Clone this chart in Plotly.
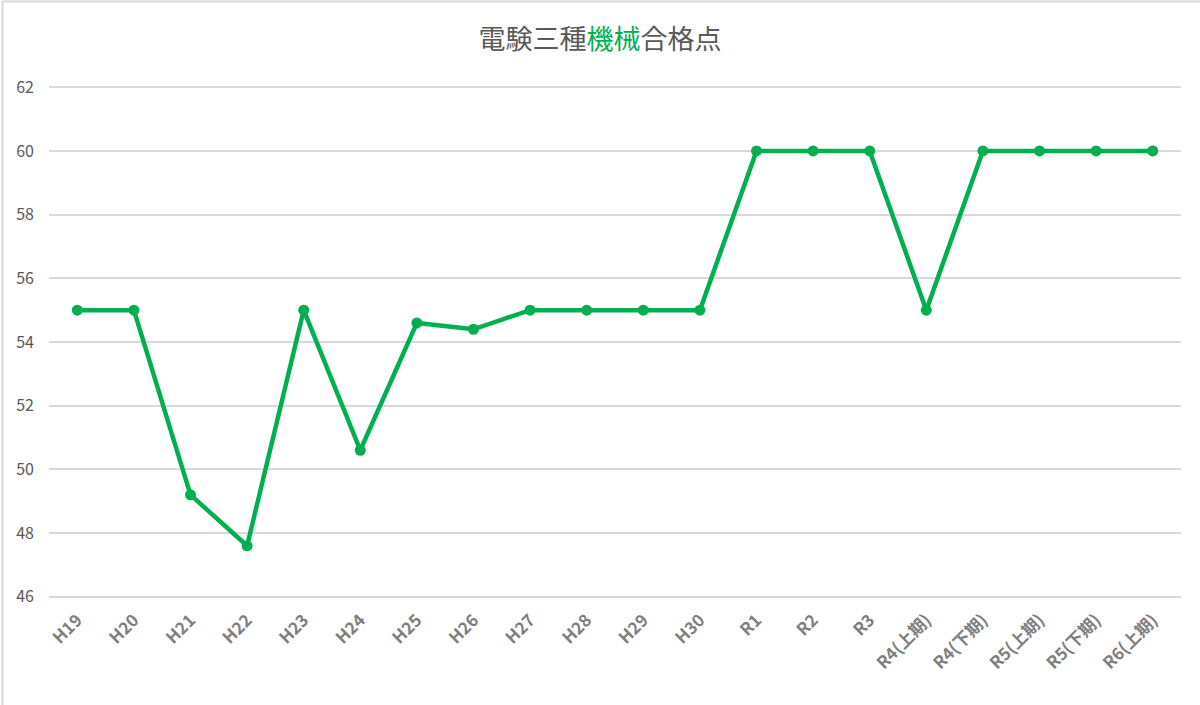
import plotly.graph_objects as go

categories = ["H19", "H20", "H21", "H22", "H23", "H24", "H25", "H26", "H27", "H28",
              "H29", "H30", "R1", "R2", "R3", "R4(上期)", "R4(下期)", "R5(上期)",
              "R5(下期)", "R6(上期)"]
scores = [55, 55, 49.2, 47.6, 55, 50.6, 54.6, 54.4, 55, 55,
          55, 55, 60, 60, 60, 55, 60, 60, 60, 60]
y_ticks = [46, 48, 50, 52, 54, 56, 58, 60, 62]

GREEN = "#00B050"
FONT = "Noto Sans CJK JP"

W, H = 1200, 705
L, R, T, B = 49, 19, 86, 107

fig = go.Figure()
fig.add_trace(go.Scatter(
    x=categories, y=scores, mode="lines+markers",
    line=dict(color=GREEN, width=4.5),
    marker=dict(color=GREEN, size=11),
    hoverinfo="x+y", showlegend=False,
))

pw = W - L - R
ph = H - T - B
top_y = (ph + T - 1.5) / ph
fig.update_layout(
    width=W, height=H,
    margin=dict(l=L, r=R, t=T, b=B),
    paper_bgcolor="white", plot_bgcolor="white",
    font=dict(family=FONT, color="#595959"),
    title=dict(
        text="電験三種<span style='color:%s'>機械</span>合格点" % GREEN,
        x=0.5, xanchor="center", y=1 - 40 / H, yanchor="middle",
        font=dict(size=27, color="#595959", family=FONT),
    ),
    xaxis=dict(
        type="category", tickangle=-45, showgrid=False, showline=False,
        ticks="", tickfont=dict(size=17, color="#7F7F7F", family=FONT, weight="bold"),
        range=[-0.5, len(categories) - 0.5], ticklabelstandoff=8,
    ),
    yaxis=dict(
        range=[45.96, 62.04], tickvals=y_ticks, showgrid=True, gridcolor="#D9D9D9",
        gridwidth=1.5, zeroline=False, showline=False, ticks="",
        tickfont=dict(size=16, color="#595959", family=FONT),
        ticklabelstandoff=14,
    ),
    shapes=[
        dict(type="line", xref="paper", yref="paper",
             x0=(2 - L) / pw, x1=(W - L) / pw, y0=top_y, y1=top_y,
             line=dict(color="#D9D9D9", width=2)),
        dict(type="line", xref="paper", yref="paper",
             x0=(2.5 - L) / pw, x1=(2.5 - L) / pw, y0=-B / ph, y1=top_y,
             line=dict(color="#D9D9D9", width=2)),
    ],
)

fig.write_html("out.html", config={"displayModeBar": False},
               post_script="document.body.style.margin='0';")
